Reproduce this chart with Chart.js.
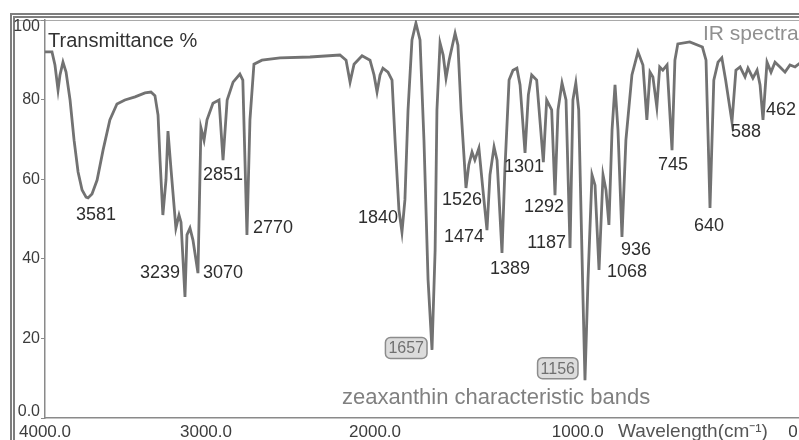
<!DOCTYPE html>
<html>
<head>
<meta charset="utf-8">
<style>
  html, body { margin: 0; padding: 0; background: #fff; overflow: hidden; width: 799px; height: 440px; }
  #wrap { position: absolute; left: 0; top: 0; width: 830px; height: 440px; }
</style>
<script src="https://cdn.jsdelivr.net/npm/chart.js@4.4.1/dist/chart.umd.min.js"></script>
</head>
<body>
<div id="wrap"><canvas id="ir" width="830" height="440"></canvas></div>
<script>
// IR spectrum of zeaxanthin: wavenumber (cm-1) and transmittance (%)
const wavenumbers = [
  4000, 3932, 3903, 3873, 3854, 3825, 3795, 3756, 3717, 3678,
  3639, 3600, 3581, 3567, 3549, 3528, 3504, 3479, 3451, 3415,
  3380, 3359, 3345, 3334, 3327, 3317, 3306, 3299, 3288, 3271,
  3260, 3253, 3239, 3213, 3174, 3135, 3070, 3044, 3017, 2991,
  2939, 2886, 2851, 2837, 2817, 2794, 2784, 2770, 2752, 2728,
  2680, 2571, 2391, 2211, 2174, 2150, 2126, 2078, 2030, 2006,
  1988, 1970, 1953, 1923, 1899, 1881, 1858, 1840, 1822, 1803,
  1779, 1755, 1730, 1706, 1681, 1657, 1645, 1638, 1626, 1614,
  1603, 1591, 1568, 1557, 1545, 1526, 1519, 1511, 1504, 1494,
  1484, 1474, 1457, 1434, 1417, 1389, 1378, 1362, 1347, 1332,
  1320, 1301, 1300, 1299, 1297.5, 1295.5, 1294.5, 1293, 1292, 1271,
  1243, 1215, 1187, 1181, 1175, 1169, 1160, 1156, 1137, 1112,
  1093, 1068, 1045, 1028, 1011, 993, 976, 959, 936, 921,
  898, 875, 856, 841, 829, 818, 803, 792, 780, 764,
  745, 737, 729, 696, 661, 651, 640, 631, 621, 612,
  603, 588, 572, 555, 535, 523, 503, 486, 474, 462,
  412, 362, 312, 250, 187, 125, 62, 0
];
const transmittance = [
  92.0, 92.0, 88.7, 82.4, 86.2, 89.4, 86.9, 79.9, 69.8, 61.8,
  57.3, 55.5, 55.3, 56.3, 59.8, 67.3, 74.9, 78.9, 79.9, 80.7,
  81.7, 81.9, 81.0, 76.1, 64.8, 51.0, 59.8, 72.1, 62.3, 47.7,
  51.0, 49.2, 30.4, 46.0, 47.7, 44.7, 36.4, 72.9, 69.8, 74.9,
  79.1, 79.9, 64.8, 79.9, 84.4, 86.4, 84.9, 46.0, 74.9, 88.9,
  89.9, 90.5, 90.7, 91.2, 89.9, 84.4, 88.9, 91.0, 89.9, 86.2,
  81.9, 86.2, 87.9, 86.9, 84.9, 69.8, 52.3, 46.7, 54.8, 77.4,
  95.0, 99.2, 95.0, 69.8, 34.7, 17.1, 42.2, 77.4, 94.2, 91.2,
  85.4, 89.9, 96.7, 93.7, 77.4, 57.8, 63.6, 66.8, 64.8, 67.8,
  57.3, 47.2, 61.1, 68.1, 64.8, 41.5, 62.3, 84.9, 87.4, 87.9,
  83.7, 66.6, 81.2, 86.2, 84.9, 64.3, 79.9, 77.4, 56.0, 77.4,
  84.2, 79.9, 42.7, 79.9, 84.2, 77.4, 29.6, 9.5, 34.7, 61.1,
  58.5, 37.2, 61.1, 57.3, 48.5, 72.4, 83.7, 72.4, 45.5, 69.8,
  86.2, 92.0, 88.7, 74.9, 86.9, 85.7, 78.1, 88.2, 87.4, 88.7,
  67.3, 89.9, 94.0, 94.5, 93.2, 89.9, 52.8, 84.9, 89.4, 90.5,
  84.9, 74.4, 87.4, 88.2, 85.7, 87.9, 85.4, 87.4, 83.7, 74.9,
  89.4, 86.9, 89.4, 88.2, 86.9, 88.7, 88.2, 89.2
];

// Assigned absorption bands (cm-1); the two zeaxanthin bands get a boxed tag
const peakWavenumbers = [3581, 3239, 3070, 2851, 2770, 1840, 1657, 1526, 1474, 1389,
                         1301, 1292, 1187, 1156, 1068, 936, 745, 640, 588, 462];
const characteristicBands = [1657, 1156];

// Axis ticks
const xTickValues = [4000, 3000, 2000, 1000, 0];
const yTickValues = [0, 20, 40, 60, 80, 100];

// Instrument wavenumber calibration: fraction of the axis length reached at each wavenumber
const calibWavenumber = [4000, 3581, 3239, 3070, 2851, 2770, 2000, 1840, 1657, 1526, 1474, 1389,
                         1301, 1292, 1187, 1156, 1068, 936, 745, 640, 588, 462, 0];
const calibFraction   = [0, 0.0570, 0.1854, 0.2026, 0.2358, 0.2675, 0.4371, 0.4728, 0.5126, 0.5576,
                         0.5854, 0.6053, 0.6358, 0.6755, 0.6954, 0.7152, 0.7338, 0.7642, 0.8305,
                         0.8808, 0.9099, 0.9510, 1];

function interpolate(v, xs, ys) {
  for (let i = 0; i < xs.length - 1; i++) {
    const a = xs[i], b = xs[i + 1];
    if ((v >= Math.min(a, b)) && (v <= Math.max(a, b))) {
      if (a === b) return ys[i];
      return ys[i] + (v - a) / (b - a) * (ys[i + 1] - ys[i]);
    }
  }
  return v > Math.max(xs[0], xs[xs.length - 1]) === (xs[0] > xs[xs.length - 1]) ? ys[0] : ys[ys.length - 1];
}

// Linear scale whose pixel mapping follows the calibration table
class CalibratedScale extends Chart.LinearScale {
  static id = 'calibrated';
  static defaults = Chart.LinearScale.defaults;
  getPixelForValue(value) {
    return this.left + interpolate(value, calibWavenumber, calibFraction) * this.width;
  }
  getValueForPixel(pixel) {
    return interpolate((pixel - this.left) / this.width, calibFraction, calibWavenumber);
  }
}
Chart.register(CalibratedScale);

const FONT = "'Liberation Sans', Arial, sans-serif";

// Where each band label sits relative to its minimum
const peakLabelPlacement = {
  3581: ['center', 8, 17],  3239: ['right', -5, -24], 3070: ['left', 5, 0],
  2851: ['center', 0, 15],  2770: ['left', 6, -7],    1840: ['right', -4, -14],
  1657: ['right', -5, -2],  1526: ['center', -4, 12], 1474: ['right', -3, 7],
  1389: ['center', 8, 16],  1301: ['center', -1, 14], 1292: ['center', -11, 12],
  1187: ['right', -4, -5],  1156: ['right', -7, -12], 1068: ['left', 8, 2],
  936:  ['center', 14, 13], 745:  ['center', 1, 15],  640:  ['center', -1, 18],
  588:  ['center', 14, 10], 462:  ['center', 18, -10]
};

const framePlugin = {
  id: 'frame',
  beforeDraw(chart) {
    const { ctx, width, height, chartArea: a } = chart;
    ctx.save();
    ctx.fillStyle = '#ffffff';
    ctx.fillRect(0, 0, width, height);
    // outer double rule
    ctx.fillStyle = '#7e7e7e';
    ctx.fillRect(10, 13, width - 10, 2);
    ctx.fillRect(13, 16, width - 13, 2);
    ctx.fillRect(10, 13, 2, height - 13);
    ctx.fillRect(13, 16, 2, height - 16);
    // inner top rule of the plot box
    ctx.strokeStyle = '#a9a9a9';
    ctx.lineWidth = 1.2;
    ctx.beginPath();
    ctx.moveTo(15, a.top + 0.5);
    ctx.lineTo(width, a.top + 0.5);
    ctx.stroke();
    ctx.restore();
  }
};

const bandLabelPlugin = {
  id: 'bandLabels',
  afterDatasetsDraw(chart) {
    const { ctx, scales: { x, y } } = chart;
    ctx.save();
    ctx.textBaseline = 'middle';
    peakWavenumbers.forEach(wn => {
      const t = transmittance[wavenumbers.indexOf(wn)];
      const [align, dx, dy] = peakLabelPlacement[wn];
      const px = x.getPixelForValue(wn) + dx;
      const py = y.getPixelForValue(t) + dy;
      const text = String(wn);
      if (characteristicBands.includes(wn)) {
        ctx.font = '16px ' + FONT;
        const w = ctx.measureText(text).width + 6;
        const h = 21;
        const left = align === 'right' ? px - w : (align === 'left' ? px : px - w / 2);
        ctx.beginPath();
        ctx.roundRect(left, py - h / 2, w, h, 5);
        ctx.fillStyle = '#dcdcdc';
        ctx.fill();
        ctx.strokeStyle = '#8c8c8c';
        ctx.lineWidth = 1.5;
        ctx.stroke();
        ctx.fillStyle = '#707070';
        ctx.textAlign = 'center';
        ctx.fillText(text, left + w / 2, py + 1);
      } else {
        ctx.font = '18px ' + FONT;
        ctx.fillStyle = '#2e2e2e';
        ctx.textAlign = align;
        ctx.fillText(text, px, py);
      }
    });
    ctx.restore();
  },
  afterDraw(chart) {
    const { ctx, chartArea: a } = chart;
    ctx.save();
    ctx.textBaseline = 'alphabetic';
    ctx.textAlign = 'left';
    ctx.fillStyle = '#333333';
    ctx.font = '20px ' + FONT;
    ctx.fillText('Transmittance %', a.left + 3, a.top + 27);
    ctx.fillStyle = '#909090';
    ctx.font = '21px ' + FONT;
    ctx.fillText('IR spectra', a.right - 97, a.top + 20);
    ctx.fillStyle = '#808080';
    ctx.font = '22px ' + FONT;
    ctx.fillText('zeaxanthin characteristic bands', a.left + 297, a.bottom - 14);
    ctx.fillStyle = '#555555';
    ctx.font = '19px ' + FONT;
    ctx.fillText('Wavelength(cm\u207B\u00B9)', a.right - 182, a.bottom + 19);
    ctx.restore();
  }
};

const points = wavenumbers.map((wn, i) => ({ x: wn, y: transmittance[i] }));

new Chart(document.getElementById('ir'), {
  type: 'line',
  data: {
    datasets: [
      { data: points, borderColor: '#727272', borderWidth: 2.8, pointRadius: 0, tension: 0 },
      { data: points, borderColor: '#cfcfcf', borderWidth: 0.8, pointRadius: 0, tension: 0 }
    ]
  },
  options: {
    responsive: false,
    animation: false,
    devicePixelRatio: 1,
    layout: { padding: { left: 0, top: 20, right: 30, bottom: 0 } },
    plugins: { legend: { display: false }, tooltip: { enabled: false } },
    scales: {
      x: {
        type: 'calibrated',
        min: 0,
        max: 4000,
        afterFit: s => { s.height = 22; },
        afterBuildTicks: s => { s.ticks = xTickValues.map(v => ({ value: v })); },
        grid: { drawOnChartArea: false, drawTicks: false },
        border: { color: '#8a8a8a', width: 1.5 },
        ticks: {
          autoSkip: false, maxRotation: 0, padding: 4,
          color: '#3c3c3c', font: { family: FONT, size: 17 },
          // the 1000 label is set ahead of its tick so the axis title fits beside it
          callback: v => v === 1000 ? '1000.0' + ' '.repeat(14) : Number(v).toFixed(1)
        }
      },
      y: {
        min: 0,
        max: 100,
        afterFit: s => { s.width = 45; },
        afterBuildTicks: s => { s.ticks = yTickValues.map(v => ({ value: v })); },
        grid: { drawOnChartArea: false, drawTicks: true, tickLength: 4, color: '#8a8a8a' },
        border: { color: '#8a8a8a', width: 1.5 },
        ticks: {
          padding: 1, color: '#3c3c3c',
          font: { family: FONT, size: 16, lineHeight: '13px' },
          callback: v => v === 0 ? ['0.0', ''] : (v === 100 ? ['', '100'] : String(v))
        }
      }
    }
  },
  plugins: [framePlugin, bandLabelPlugin]
});
</script>
</body>
</html>
